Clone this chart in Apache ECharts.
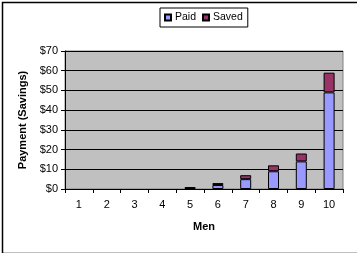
<!DOCTYPE html>
<html>
<head>
<meta charset="utf-8">
<script src="https://cdn.jsdelivr.net/npm/echarts@6/dist/echarts.min.js"></script>
<style>
html,body{margin:0;padding:0;background:#fff;}
#c{width:357px;height:253px;}
</style>
</head>
<body>
<div id="c"></div>
<script>
var categories = ['1','2','3','4','5','6','7','8','9','10'];
var paid = [0, 0, 0, 0, 0, 2, 5, 9, 14, 49];
var saved = [0, 0, 0, 0, 1, 1, 2, 3, 4, 10];
var yTicks = [0, 10, 20, 30, 40, 50, 60, 70];

function noZero(arr){ return arr.map(function(v){ return v === 0 ? '-' : v; }); }

var font = 'Arial, "Liberation Sans", sans-serif';
var chart = echarts.init(document.getElementById('c'), null, {renderer:'canvas'});
chart.setOption({
  animation: false,
  backgroundColor: '#fff',
  textStyle: {fontFamily: font},
  graphic: [{
    type: 'rect', left: 0, top: 0, z: -10,
    shape: {x: 0.5, y: 0.5, width: 355.5, height: 251},
    style: {fill: 'none', stroke: '#000', lineWidth: 1.5}
  }],
  legend: {
    left: 160, top: 8,
    padding: [4, 5, 4, 4],
    borderColor: '#000', borderWidth: 1,
    itemWidth: 6, itemHeight: 6, itemGap: 6,
    icon: 'rect',
    textStyle: {fontSize: 10.5, color: '#000', fontFamily: font, padding: [0, 0, 0, -1]},
    data: ['Paid', 'Saved']
  },
  grid: {
    left: 65, right: 14, top: 51, bottom: 64,
    show: true, backgroundColor: '#C0C0C0', borderColor: '#808080', borderWidth: 1
  },
  xAxis: {
    type: 'category', data: categories,
    name: 'Men', nameLocation: 'middle', nameGap: 32,
    nameTextStyle: {fontSize: 11, fontWeight: 'bold', color: '#000'},
    axisLine: {lineStyle: {color: '#000', width: 1}},
    axisTick: {show: true, alignWithLabel: false, length: 4, lineStyle: {color: '#000'}},
    axisLabel: {fontSize: 11, color: '#000', margin: 10}
  },
  yAxis: {
    type: 'value', min: yTicks[0], max: yTicks[yTicks.length - 1], interval: 10,
    name: 'Payment (Savings)', nameLocation: 'middle', nameGap: 34,
    nameTextStyle: {fontSize: 11, fontWeight: 'bold', color: '#000'},
    axisLine: {show: true, lineStyle: {color: '#000', width: 1}},
    axisTick: {show: true, length: 4, lineStyle: {color: '#000'}},
    axisLabel: {fontSize: 11, color: '#000', margin: 7, formatter: function(v){return '$' + v;}},
    splitLine: {show: true, lineStyle: {color: '#000', width: 1}}
  },
  series: [{
    name: 'Paid', type: 'bar', stack: 'a', data: noZero(paid), barWidth: 11,
    itemStyle: {color: '#9999FF', borderColor: '#000', borderWidth: 1}
  }, {
    name: 'Saved', type: 'bar', stack: 'a', data: noZero(saved), barWidth: 11,
    itemStyle: {color: '#993366', borderColor: '#000', borderWidth: 1}
  }]
});
</script>
</body>
</html>
